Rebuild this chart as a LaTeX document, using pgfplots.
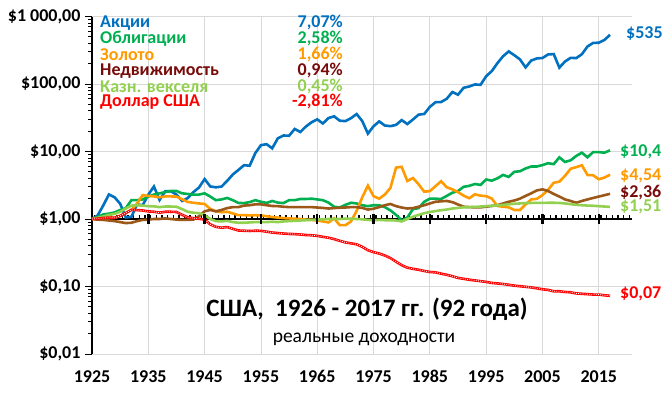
\documentclass[border=0pt]{standalone}
\usepackage{pgfplots}
\usepackage{pgfplotstable}
\pgfplotsset{compat=1.18}
\usepackage{fontspec}
\setmainfont{Carlito}
\definecolor{cBlue}{RGB}{0,112,192}
\definecolor{cGreen}{RGB}{0,176,80}
\definecolor{cGold}{RGB}{255,155,0}
\definecolor{cBrown}{RGB}{156,88,24}
\definecolor{cMaroon}{RGB}{120,10,10}
\definecolor{cLight}{RGB}{146,208,80}
\definecolor{cRed}{RGB}{255,0,0}
\pgfplotstableread{
year stocks bonds gold re tbills usd
1925 1.000 1.00 1.000 1.00 1.00 1.000
1926 1.129 1.07 1.011 0.98 1.04 1.011
1927 1.588 1.17 1.035 0.97 1.09 1.035
1928 2.307 1.20 1.047 0.95 1.15 1.047
1929 2.101 1.25 1.041 0.93 1.19 1.041
1930 1.685 1.36 1.112 0.90 1.28 1.112
1931 1.054 1.45 1.226 0.87 1.43 1.226
1932 1.078 1.90 1.366 0.88 1.58 1.366
1933 1.648 1.90 1.700 0.93 1.60 1.356
1934 1.600 1.95 2.260 0.97 1.58 1.336
1935 2.295 2.15 2.200 0.98 1.55 1.297
1936 3.030 2.30 2.160 1.00 1.54 1.279
1937 1.915 2.40 2.100 1.00 1.50 1.243
1938 2.582 2.50 2.160 1.02 1.53 1.279
1939 2.571 2.60 2.160 1.00 1.53 1.279
1940 2.303 2.60 2.150 0.98 1.52 1.270
1941 1.852 2.40 1.960 0.97 1.40 1.155
1942 2.043 2.35 1.790 0.97 1.28 1.059
1943 2.499 2.30 1.740 0.98 1.24 1.029
1944 2.926 2.30 1.700 1.10 1.22 1.006
1945 3.903 2.40 1.670 1.30 1.15 0.984
1946 3.037 2.15 1.410 1.36 1.00 0.833
1947 2.949 1.90 1.300 1.30 0.93 0.765
1948 3.021 1.95 1.260 1.36 0.92 0.743
1949 3.665 2.05 1.280 1.45 0.94 0.759
1950 4.556 1.90 1.210 1.50 0.90 0.716
1951 5.330 1.73 1.140 1.50 0.88 0.676
1952 6.263 1.72 1.140 1.58 0.88 0.670
1953 6.155 1.78 1.130 1.60 0.89 0.665
1954 9.463 1.90 1.140 1.65 0.90 0.670
1955 12.41 1.80 1.130 1.65 0.90 0.668
1956 12.84 1.73 1.100 1.60 0.90 0.649
1957 11.13 1.85 1.070 1.56 0.91 0.630
1958 15.69 1.75 1.050 1.55 0.90 0.619
1959 17.27 1.72 1.030 1.52 0.92 0.609
1960 17.13 1.90 1.020 1.50 0.93 0.601
1961 21.59 1.90 1.010 1.50 0.94 0.597
1962 19.45 1.98 1.000 1.50 0.95 0.589
1963 23.50 1.98 0.980 1.50 0.96 0.579
1964 27.11 2.00 0.970 1.50 0.97 0.574
1965 29.92 1.95 0.950 1.48 0.98 0.563
1966 26.00 1.90 0.920 1.46 0.99 0.544
1967 31.29 1.75 0.890 1.43 1.00 0.528
1968 33.20 1.52 1.020 1.45 1.00 0.504
1969 28.60 1.48 0.810 1.47 1.00 0.475
1970 28.18 1.62 0.810 1.48 1.01 0.450
1971 31.19 1.74 0.920 1.50 1.01 0.436
1972 35.89 1.70 1.320 1.50 1.00 0.421
1973 28.16 1.60 2.100 1.46 0.99 0.387
1974 18.43 1.55 3.120 1.38 0.97 0.345
1975 23.64 1.60 2.180 1.42 0.96 0.323
1976 27.91 1.60 2.000 1.50 0.97 0.308
1977 24.27 1.50 2.300 1.60 0.96 0.288
1978 23.74 1.34 2.890 1.67 0.96 0.264
1979 24.81 1.15 5.780 1.55 0.95 0.233
1980 29.19 0.95 5.920 1.48 0.92 0.207
1981 25.48 1.05 3.660 1.43 1.00 0.190
1982 29.80 1.40 4.050 1.45 1.08 0.183
1983 35.17 1.45 3.270 1.52 1.15 0.177
1984 35.97 1.80 2.540 1.60 1.22 0.170
1985 45.81 2.00 2.590 1.70 1.27 0.164
1986 53.69 2.00 3.060 1.80 1.31 0.162
1987 54.08 1.98 3.630 1.83 1.35 0.155
1988 60.48 2.20 2.950 1.85 1.38 0.149
1989 76.05 2.45 2.750 1.78 1.43 0.142
1990 69.43 2.60 2.500 1.64 1.46 0.134
1991 87.90 3.00 2.220 1.52 1.49 0.130
1992 91.89 3.10 2.030 1.50 1.50 0.126
1993 98.52 3.30 2.320 1.49 1.51 0.123
1994 97.20 3.20 2.220 1.49 1.53 0.120
1995 130.4 3.85 2.180 1.52 1.55 0.117
1996 155.3 3.70 2.010 1.56 1.57 0.113
1997 203.7 4.00 1.560 1.60 1.59 0.111
1998 257.7 4.50 1.520 1.70 1.62 0.109
1999 303.8 4.20 1.490 1.80 1.65 0.106
2000 267.1 5.00 1.360 1.88 1.68 0.103
2001 231.6 5.10 1.360 2.00 1.70 0.101
2002 176.3 5.60 1.640 2.20 1.72 0.099
2003 222.6 6.00 1.950 2.40 1.73 0.097
2004 239.2 6.00 1.990 2.65 1.73 0.094
2005 242.7 6.30 2.260 2.75 1.73 0.091
2006 273.9 6.70 2.710 2.60 1.74 0.089
2007 277.6 6.50 3.440 2.35 1.74 0.085
2008 174.9 8.20 3.580 2.15 1.73 0.085
2009 215.2 7.00 4.360 1.95 1.70 0.083
2010 244.2 7.40 5.550 1.85 1.66 0.082
2011 242.0 8.60 5.870 1.74 1.62 0.079
2012 276.1 9.60 6.250 1.85 1.60 0.078
2013 359.9 8.20 4.480 1.95 1.58 0.077
2014 406.0 9.80 4.450 2.05 1.57 0.076
2015 409.0 9.80 3.880 2.15 1.55 0.076
2016 449.0 9.60 4.110 2.25 1.53 0.074
2017 535.2 10.40 4.540 2.36 1.51 0.073
}\data
\begin{document}
\begin{tikzpicture}
\useasboundingbox (0,0) rectangle (667pt,392pt);
\begin{axis}[
  at={(92pt,38pt)}, anchor=south west,
  width=540pt, height=337.5pt, scale only axis,
  ymode=log, ymin=0.01, ymax=1000,
  xmin=1925, xmax=2020.9,
  axis x line*=bottom, axis y line*=left,
  x axis line style={draw=gray!30, line width=0.8pt},
  y axis line style={black, line width=1.3pt},
  xtick={1925,1935,1945,1955,1965,1975,1985,1995,2005,2015},
  xticklabels={1925,1935,1945,1955,1965,1975,1985,1995,2005,2015},
  ytick={0.01,0.1,1,10,100,1000},
  yticklabels={{\$0,01},{\$0,10},{\$1,00},{\$10,00},{\$100,00},{\$1 000,00}},
  minor ytick={0.02,0.03,0.04,0.05,0.06,0.07,0.08,0.09,0.2,0.3,0.4,0.5,0.6,0.7,0.8,0.9,2,3,4,5,6,7,8,9,20,30,40,50,60,70,80,90,200,300,400,500,600,700,800,900},
  xtick style={draw=none},
  ytick style={black, line width=1pt},
  tick align=outside,
  major tick length=7pt, minor tick length=4pt,
  xmajorgrids, ymajorgrids,
  major grid style={gray!30, line width=0.8pt},
  ticklabel style={font=\bfseries\fontsize{18}{18}\selectfont},
  xticklabel style={yshift=-6pt},
  yticklabel style={xshift=-1pt},
  clip=false,
]
% x axis crossing at $1
\addplot[black, line width=2.4pt, forget plot] coordinates {(1925,1) (2020.9,1)};
\addplot[black, line width=3.5pt, dash pattern=on 1.4pt off 4.23pt, forget plot] coordinates {(1925.3,1.09) (2020.9,1.09)};
\addplot[black, only marks, mark=|, mark size=5pt, mark options={line width=2.4pt}, forget plot] coordinates {(1935,1) (1945,1) (1955,1) (1965,1) (1975,1) (1985,1) (1995,1) (2005,1) (2015,1)};
% series
\addplot[cBlue, line width=2.6pt] table[x=year,y=stocks]{\data};
\addplot[cGreen, line width=2.6pt] table[x=year,y=bonds]{\data};
\addplot[cGold, line width=2.6pt] table[x=year,y=gold]{\data};
\addplot[cBrown, line width=2.6pt] table[x=year,y=re]{\data};
\addplot[cLight, line width=2.6pt] table[x=year,y=tbills]{\data};
\addplot[cRed, line width=2.6pt] table[x=year,y=usd]{\data};
\addplot[white, line width=0.8pt, dash pattern=on 0.8pt off 1.4pt] table[x=year,y=usd]{\data};
\end{axis}
% legend text
\begin{scope}[every node/.style={font=\bfseries\fontsize{18}{18}\selectfont, inner sep=0pt}]
\node[anchor=west, text=cBlue] at (100pt,369pt) {Акции};
\node[anchor=west, text=cGreen] at (100pt,353pt) {Облигации};
\node[anchor=west, text=cGold] at (100pt,337pt) {Золото};
\node[anchor=west, text=cMaroon] at (100pt,321pt) {Недвижимость};
\node[anchor=west, text=cLight] at (100pt,305pt) {Казн. векселя};
\node[anchor=west, text=cRed] at (100pt,290pt) {Доллар США};
\node[anchor=east, text=cBlue] at (343pt,369pt) {7,07\%};
\node[anchor=east, text=cGreen] at (343pt,353pt) {2,58\%};
\node[anchor=east, text=cGold] at (343pt,337pt) {1,66\%};
\node[anchor=east, text=cMaroon] at (343pt,321pt) {0,94\%};
\node[anchor=east, text=cLight] at (343pt,305pt) {0,45\%};
\node[anchor=east, text=cRed] at (343pt,290pt) {-2,81\%};
% end labels
\node[anchor=west, text=cBlue] at (626pt,358pt) {\$535};
\node[anchor=west, text=cGreen] at (620pt,240pt) {\$10,4};
\node[anchor=west, text=cGold] at (620pt,216pt) {\$4,54};
\node[anchor=west, text=cMaroon] at (620pt,199pt) {\$2,36};
\node[anchor=west, text=cLight] at (620pt,185pt) {\$1,51};
\node[anchor=west, text=cRed] at (620pt,98pt) {\$0,07};
\end{scope}
\node[font=\bfseries\fontsize{25}{25}\selectfont, inner sep=0pt] at (367pt,83pt) {США,\ \ 1926 - 2017 гг. (92 года)};
\node[font=\fontsize{19.5}{19.5}\selectfont, inner sep=0pt] at (364pt,53pt) {реальные доходности};
\end{tikzpicture}
\end{document}
